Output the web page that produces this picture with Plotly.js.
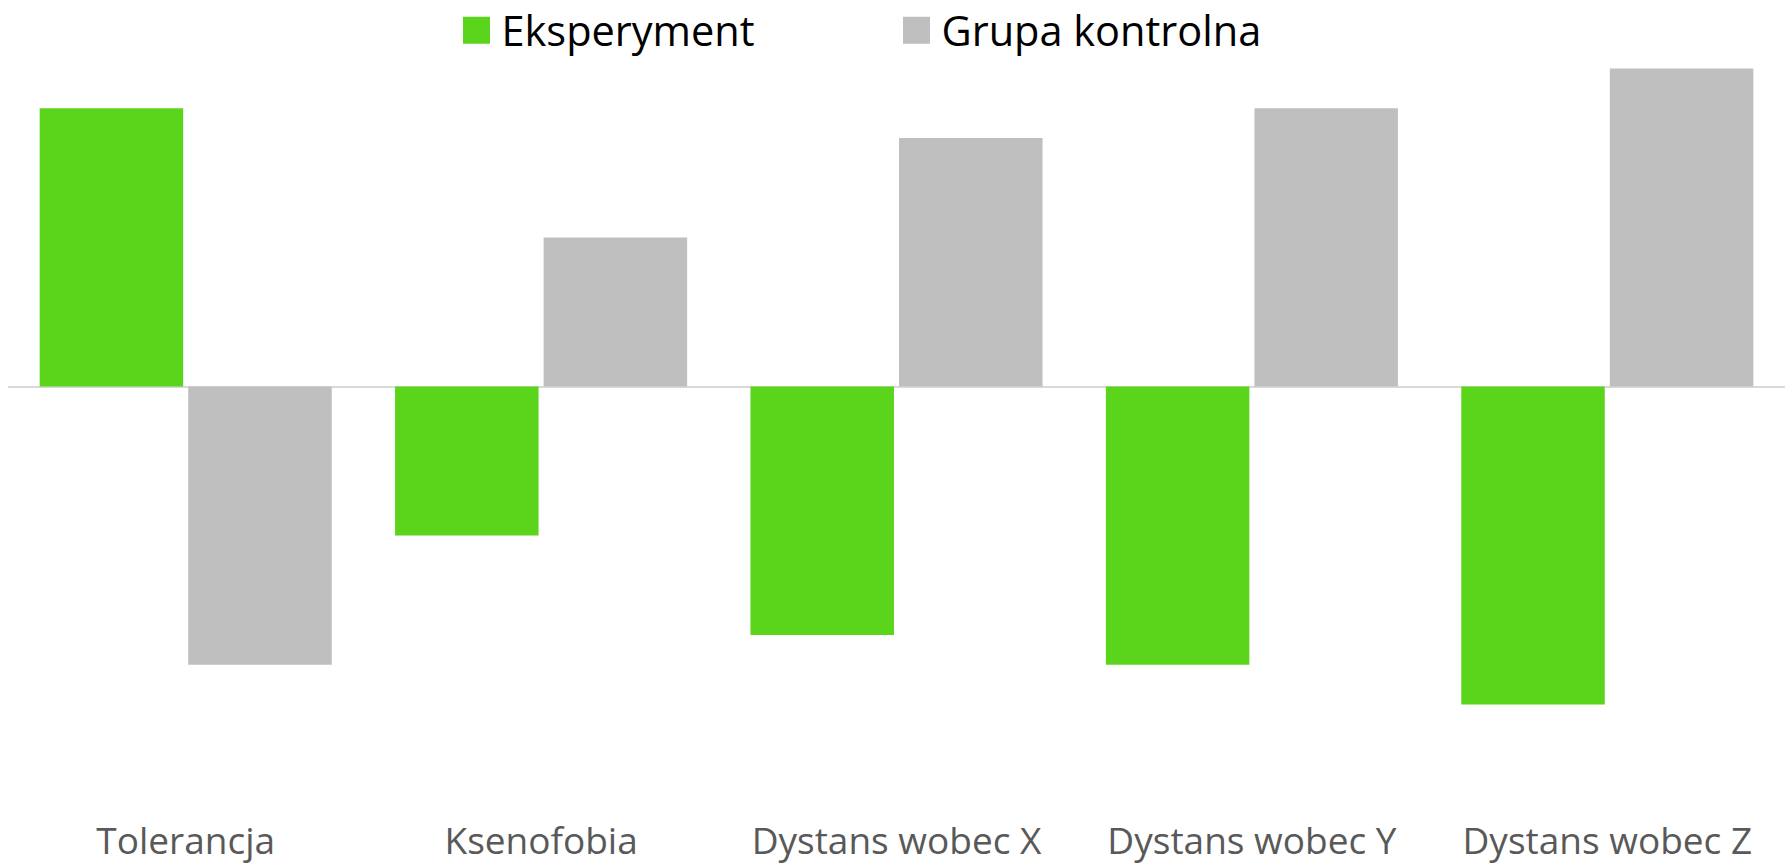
<!DOCTYPE html>
<html>
<head>
<meta charset="utf-8">
<script src="https://cdn.plot.ly/plotly-3.0.1.min.js"></script>
<style>
  html, body { margin: 0; padding: 0; background: #ffffff; }
  #chart { width: 1787px; height: 865px; }
</style>
</head>
<body>
<div id="chart"></div>
<script>
// Data
const categories = ["Tolerancja", "Ksenofobia", "Dystans wobec X", "Dystans wobec Y", "Dystans wobec Z"];
const seriesNames = ["Eksperyment", "Grupa kontrolna"];
const eksperyment = [1.12, -0.60, -1.00, -1.12, -1.28];
const grupaKontrolna = [-1.12, 0.60, 1.00, 1.12, 1.28];

const GREEN = "#5bd41c";
const GRAY = "#bfbfbf";

const traces = [
  {
    type: "bar",
    name: seriesNames[0],
    x: categories,
    y: eksperyment,
    marker: { color: GREEN, line: { width: 0 } },
    hoverinfo: "x+y+name"
  },
  {
    type: "bar",
    name: seriesNames[1],
    x: categories,
    y: grupaKontrolna,
    marker: { color: GRAY, line: { width: 0 } },
    hoverinfo: "x+y+name"
  }
];

const layout = {
  width: 1787,
  height: 865,
  margin: { l: 8, r: 2, t: 60, b: 49, pad: 0, autoexpand: false },
  paper_bgcolor: "#ffffff",
  plot_bgcolor: "#ffffff",
  font: { family: "'Open Sans', 'Noto Sans', sans-serif", color: "#595959" },
  barmode: "group",
  bargap: 0.164,
  bargroupgap: 0.034,
  showlegend: true,
  legend: {
    orientation: "h",
    xref: "container",
    yref: "paper",
    x: 0.25266,
    xanchor: "left",
    y: 1.0836,
    yanchor: "top",
    itemwidth: 40,
    entrywidth: 385,
    entrywidthmode: "pixels",
    font: { family: "'Open Sans', 'Noto Sans', sans-serif", size: 41.5, color: "#000000" },
    bgcolor: "rgba(0,0,0,0)",
    traceorder: "normal"
  },
  xaxis: {
    type: "category",
    showgrid: false,
    showline: false,
    zeroline: false,
    ticks: "",
    tickfont: { family: "'Open Sans', 'Noto Sans', sans-serif", size: 37, color: "#595959" },
    automargin: false,
    fixedrange: true
  },
  yaxis: {
    range: [-1.7284, 1.3139],
    showgrid: false,
    showticklabels: false,
    showline: false,
    ticks: "",
    zeroline: true,
    zerolinecolor: "#d9d9d9",
    zerolinewidth: 2,
    automargin: false,
    fixedrange: true
  }
};

Plotly.newPlot("chart", traces, layout, { displayModeBar: false, staticPlot: true }).then(function () {
  // enlarge legend keys to match the reference's larger squares (keep Plotly's own centring)
  document.querySelectorAll("#chart .legend .legendpoints path").forEach(function (p) {
    var t = p.getAttribute("transform") || "";
    p.setAttribute("transform", t + " scale(2.25)");
  });
});
</script>
</body>
</html>
